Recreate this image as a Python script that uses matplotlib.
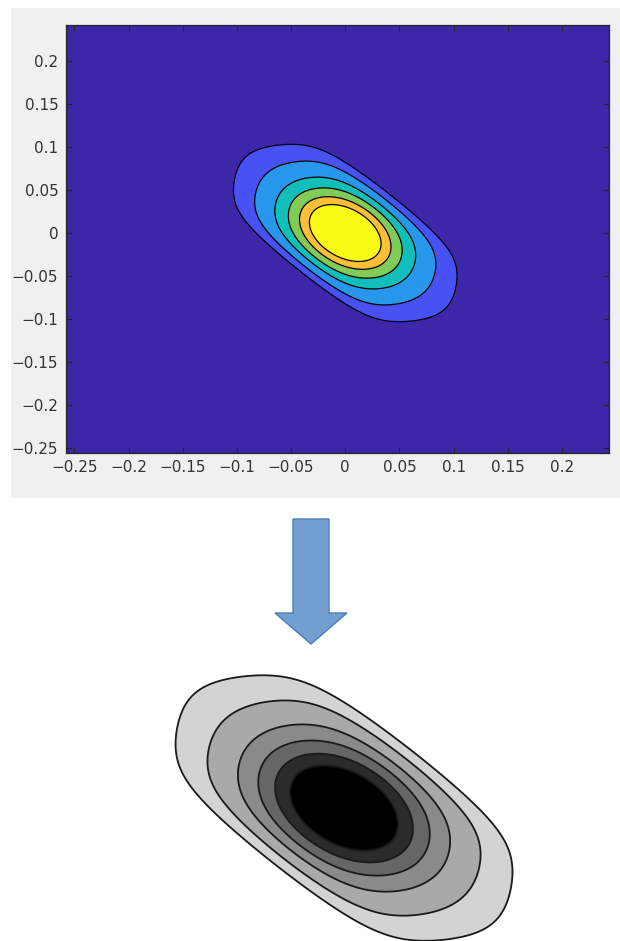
import matplotlib
matplotlib.use("Agg")
import matplotlib.pyplot as plt
import numpy as np
from matplotlib.patches import Rectangle, FancyArrow
from matplotlib.transforms import IdentityTransform

# shape of the density blob
core_scale = 0.0662    # width of the elliptical core
core_tilt = 0.376      # x*y coupling (negative correlation)
wall_xy = 0.111        # outer edges in x and y
wall_diag = 0.0815     # outer edges along x+y
wall_power = 8

# contour levels (fraction of peak) and fill colours
levels = [0.067, 0.225, 0.430, 0.581, 0.705, 0.807]
parula_colors = ['#3E26A8', '#4852F4', '#2796EB', '#12BEB9', '#81CC59', '#FCBF3A', '#F9FB15']
gray_colors = ['#D3D3D3', '#A9A9A9', '#8A8A8A', '#666666', '#2B2B2B', '#000000']

tick_values = [-0.25, -0.2, -0.15, -0.1, -0.05, 0, 0.05, 0.1, 0.15, 0.2]
tick_labels = ['\u22120.25', '\u22120.2', '\u22120.15', '\u22120.1', '\u22120.05',
               '0', '0.05', '0.1', '0.15', '0.2']

x_range = (-0.2577, 0.2434)
y_range = (-0.2558, 0.2419)

xs = np.linspace(x_range[0], x_range[1], 600)
ys = np.linspace(y_range[0], y_range[1], 600)
X, Y = np.meshgrid(xs, ys)
core = (X ** 2 + Y ** 2 + 2 * core_tilt * X * Y) / core_scale ** 2
wall = ((np.abs(X) / wall_xy) ** wall_power + (np.abs(Y) / wall_xy) ** wall_power
        + (np.abs(X + Y) / wall_diag) ** wall_power)
Z = np.exp(-(core + wall))

W, H = 620, 941
fig = plt.figure(figsize=(W / 100, H / 100), dpi=100)
fig.patch.set_facecolor('white')

# grey matlab window background
bg = Rectangle((11, H - 498), 609, 490, transform=IdentityTransform(),
               facecolor='#F0F0F0', edgecolor='none', zorder=-1)
fig.add_artist(bg)

# top: coloured contour plot
ax = fig.add_axes([66 / W, 1 - 453 / H, 543 / W, 428 / H])
ax.contourf(X, Y, Z, levels=[0] + levels + [1.01], colors=parula_colors)
ax.contour(X, Y, Z, levels=levels, colors='black', linewidths=0.9)
ax.set_xlim(*x_range)
ax.set_ylim(*y_range)
ax.set_xticks(tick_values)
ax.set_xticklabels(tick_labels)
ax.set_yticks(tick_values)
ax.set_yticklabels(tick_labels)
ax.tick_params(direction='in', top=True, right=True, length=4, width=0.8,
               color='#262626', labelcolor='#333333', labelsize=11)
ax.tick_params(axis='x', pad=5)
ax.tick_params(axis='y', pad=5.5)
for s in ax.spines.values():
    s.set_color('#262626')
    s.set_linewidth(0.9)

# arrow between the two plots
arrow = FancyArrow(311, H - 519, 0, -125, width=36, head_width=72, head_length=31,
                   length_includes_head=True, transform=IdentityTransform(),
                   facecolor='#729FCF', edgecolor='#4A7EBB', linewidth=1)
fig.add_artist(arrow)

# bottom: greyscale version, zoomed in
ax2 = fig.add_axes([150 / W, 0, 390 / W, 291 / H])
ax2.contourf(X, Y, Z, levels=levels + [1.01], colors=gray_colors)
ax2.contour(X, Y, Z, levels=levels, colors='#1A1A1A', linewidths=1.3)
ax2.set_xlim(-0.1188, 0.1200)
ax2.set_ylim(-0.1033, 0.1228)
ax2.axis('off')

fig.savefig('out.png', dpi=100, facecolor='white')
